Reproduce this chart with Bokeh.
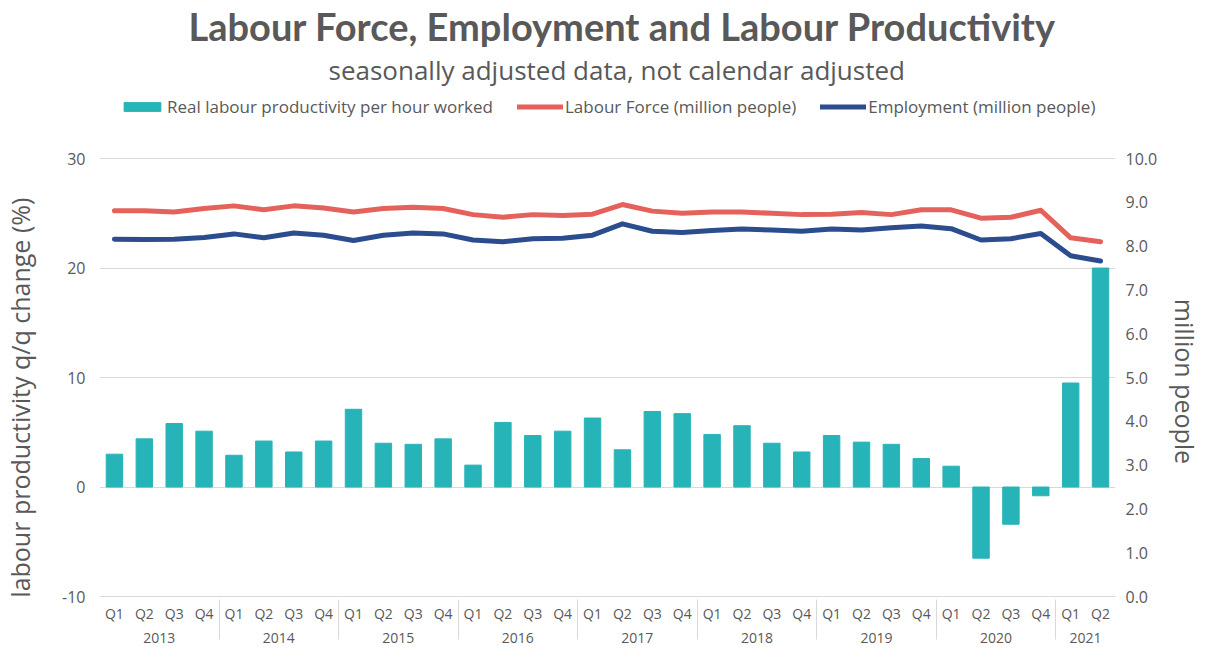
import math
from bokeh.plotting import figure
from bokeh.models import (ColumnDataSource, FactorRange, Range1d, LinearAxis, FixedTicker,
                          PrintfTickFormatter, Legend, LegendItem, Title)
from bokeh.embed import file_html
from bokeh.resources import INLINE

# ---------------- data ----------------
years = ["2013", "2014", "2015", "2016", "2017", "2018", "2019", "2020", "2021"]
quarters = ["Q1", "Q2", "Q3", "Q4"]
periods = [(y, q) for y in years for q in quarters][:34]

productivity = [3.0, 4.4, 5.8, 5.1,
                2.9, 4.2, 3.2, 4.2,
                7.1, 4.0, 3.9, 4.4,
                2.0, 5.9, 4.7, 5.1,
                6.3, 3.4, 6.9, 6.7,
                4.8, 5.6, 4.0, 3.2,
                4.7, 4.1, 3.9, 2.6,
                1.9, -6.5, -3.4, -0.8,
                9.5, 20.0]

labour_force = [8.81, 8.81, 8.78, 8.86,
                8.92, 8.83, 8.92, 8.87,
                8.78, 8.86, 8.89, 8.86,
                8.72, 8.66, 8.72, 8.70,
                8.73, 8.95, 8.80, 8.75,
                8.78, 8.78, 8.75, 8.72,
                8.73, 8.77, 8.72, 8.83,
                8.83, 8.64, 8.66, 8.82,
                8.19, 8.10]

employment = [8.16, 8.15, 8.16, 8.20,
              8.28, 8.19, 8.30, 8.25,
              8.13, 8.25, 8.30, 8.28,
              8.14, 8.10, 8.17, 8.18,
              8.25, 8.51, 8.34, 8.31,
              8.36, 8.39, 8.37, 8.34,
              8.39, 8.37, 8.42, 8.46,
              8.40, 8.14, 8.17, 8.29,
              7.78, 7.66]

left_ticks = [-10, 0, 10, 20, 30]
right_ticks = [0, 1, 2, 3, 4, 5, 6, 7, 8, 9, 10]

# axis limits (the frame is extended upwards to host the legend row)
LEFT_MIN, LEFT_MAX = -10, 36.4
RIGHT_MIN, RIGHT_MAX = 0, (36.4 + 10) / 4.0

# ---------------- styling ----------------
FONT = "Open Sans"
TITLE_FONT = "Lato"
GREY = "#595959"
LIGHT = "#d9d9d9"
TEAL = "#27B4B8"
RED = "#E5625C"
BLUE = "#2B4C8D"
PAD = "\u00a0"

src = ColumnDataSource(dict(period=periods, prod=productivity,
                            lf=labour_force, emp=employment))

p = figure(width=1205, height=650,
           x_range=FactorRange(*periods, factor_padding=0, group_padding=0, range_padding=0),
           y_range=Range1d(LEFT_MIN, LEFT_MAX),
           output_backend="svg", toolbar_location=None, title=None,
           min_border_left=97, min_border_right=89, min_border_top=78, min_border_bottom=54)
p.outline_line_color = None
p.extra_y_ranges = {"right": Range1d(RIGHT_MIN, RIGHT_MAX)}

bars = p.vbar(x="period", top="prod", width=0.55, source=src,
              fill_color=TEAL, line_color=TEAL)
lf_r = p.line(x="period", y="lf", source=src, y_range_name="right",
              line_color=RED, line_width=5, line_join="round", line_cap="round")
emp_r = p.line(x="period", y="emp", source=src, y_range_name="right",
               line_color=BLUE, line_width=5, line_join="round", line_cap="round")

# grid
p.xgrid.grid_line_color = None
p.ygrid.grid_line_color = LIGHT
p.ygrid.grid_line_width = 1

# left axis
ya = p.yaxis[0]
ya.ticker = FixedTicker(ticks=left_ticks)
ya.formatter = PrintfTickFormatter(format="%d")
ya.axis_line_color = None
ya.major_tick_line_color = None
ya.minor_tick_line_color = None
ya.major_tick_in = 0
ya.major_tick_out = 0
ya.minor_tick_in = 0
ya.minor_tick_out = 0
ya.major_label_text_font = FONT
ya.major_label_text_font_size = "16px"
ya.major_label_text_color = GREY
ya.major_label_standoff = 14
ya.axis_label = "labour productivity q/q change (%)" + PAD * 17
ya.axis_label_text_font = FONT
ya.axis_label_text_font_size = "25px"
ya.axis_label_text_font_style = "normal"
ya.axis_label_text_color = GREY
ya.axis_label_standoff = 22

# right axis
ra = LinearAxis(y_range_name="right", ticker=FixedTicker(ticks=right_ticks),
                formatter=PrintfTickFormatter(format="%.1f"))
ra.axis_line_color = None
ra.major_tick_line_color = None
ra.minor_tick_line_color = None
ra.major_tick_in = 0
ra.major_tick_out = 0
ra.minor_tick_in = 0
ra.minor_tick_out = 0
ra.major_label_text_font = FONT
ra.major_label_text_font_size = "16px"
ra.major_label_text_color = GREY
ra.major_label_standoff = 10
ra.axis_label = PAD * 12 + "million people"
ra.axis_label_text_font = FONT
ra.axis_label_text_font_size = "25px"
ra.axis_label_text_font_style = "normal"
ra.axis_label_text_color = GREY
ra.axis_label_standoff = 8
p.add_layout(ra, "right")

# category axis
xa = p.xaxis[0]
xa.axis_line_color = LIGHT
xa.major_tick_line_color = None
xa.minor_tick_line_color = None
xa.major_tick_in = 0
xa.major_tick_out = 0
xa.major_label_text_font = FONT
xa.major_label_text_font_size = "14px"
xa.major_label_text_color = GREY
xa.major_label_standoff = 7
xa.group_text_font = FONT
xa.group_text_font_size = "14px"
xa.group_text_font_style = "normal"
xa.group_text_color = GREY
xa.separator_line_color = LIGHT
xa.separator_line_width = 1

# legend row at the top of the frame
legend = Legend(items=[
    LegendItem(label="Real labour productivity per hour worked", renderers=[bars]),
    LegendItem(label="Labour Force (million people)", renderers=[lf_r]),
    LegendItem(label="Employment (million people)", renderers=[emp_r]),
], orientation="horizontal", location=(20, 478),
    label_text_font=FONT, label_text_font_size="17px", label_text_color=GREY,
    glyph_width=46, glyph_height=11, label_standoff=2, spacing=24,
    border_line_color=None, background_fill_alpha=0, padding=0, margin=0)
p.add_layout(legend, "center")

p.add_layout(Title(text="seasonally adjusted data, not calendar adjusted", align="left",
                   offset=229, text_font=FONT, text_font_size="26px",
                   text_font_style="normal", text_color=GREY, standoff=2), "above")
p.add_layout(Title(text="Labour Force, Employment and Labour Productivity", align="left",
                   offset=89, text_font=TITLE_FONT, text_font_size="38px",
                   text_font_style="bold", text_color=GREY, standoff=0), "above")

open("out.html", "w").write(file_html(p, INLINE))
